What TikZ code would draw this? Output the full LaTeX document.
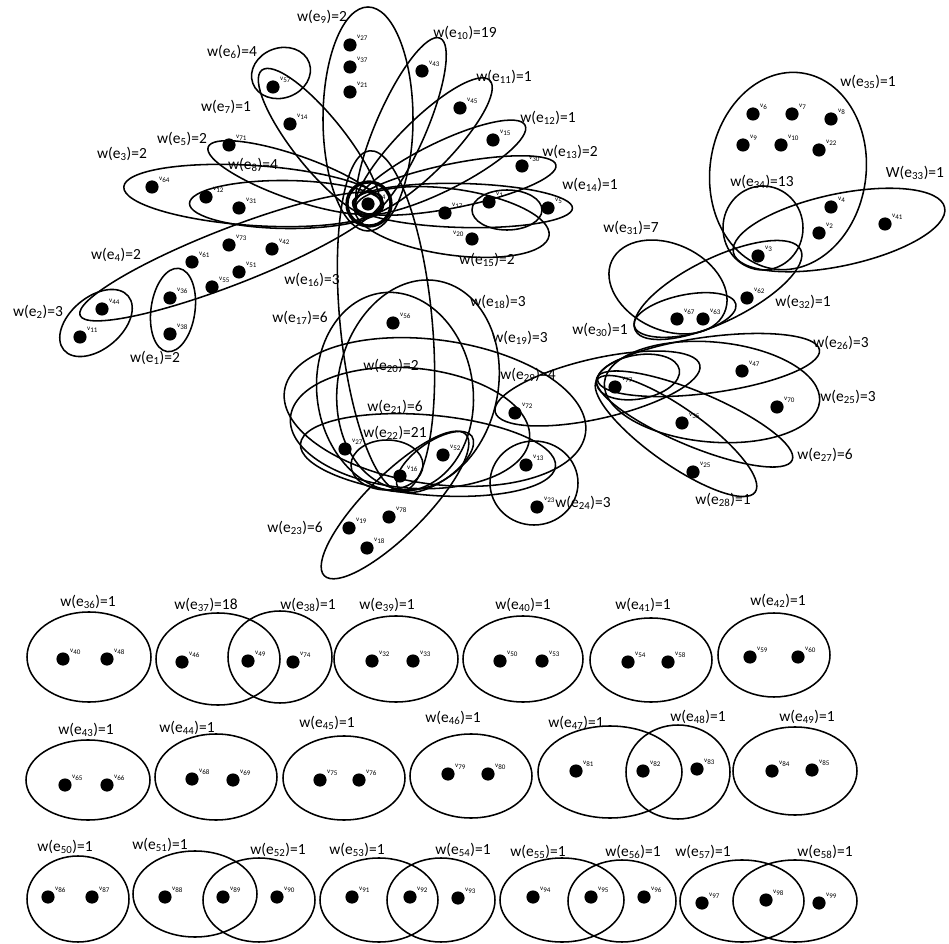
\documentclass[tikz,border=0pt]{standalone}
\usepackage{fontspec}
\setmainfont{Carlito}
\usetikzlibrary{positioning}
\tikzset{
  hedge/.style={line width=1.1pt},
  vx/.style={circle,fill,inner sep=0pt,minimum size=3.3mm},
  vlab/.style={font=\fontsize{5}{6}\selectfont,inner sep=0.6pt},
  wlab/.style={font=\fontsize{11}{13}\selectfont,inner sep=0pt},
}
\begin{document}
\begin{tikzpicture}[x=0.25mm,y=-0.25mm]
  \useasboundingbox (0,0) rectangle (949,944);
  % hyperedges of the three clusters
  \foreach \cx/\cy/\rx/\ry/\ang in {
    173/310/22/42/-8, 96/323/42/26/40, 253.5/195.5/130/30/176.2, 231/256.5/162/28/21.3,
    295/177.5/92/22/160.7, 281/73/30/25/20, 319.5/142.5/92.5/26/128.6, 286.5/204.5/97/24/179.4,
    368/119/45/112/0, 401/127.5/97.5/25/66.4, 423.5/147/94/26/45.2, 440/167.5/95/24/26.4,
    454.5/185.5/103.5/22/11.4, 462.5/205.5/110/22/-1.4, 507/210/35/20/0, 452/222/98/33/-8,
    386/321/171/46/-84.5, 395/392/78/100/8, 418/385/80/106/-12, 435/412/152/72/-8,
    410/428/120/60/-5, 428/455/128/40/-5, 387/465/36/25/0, 435/462/45/20/35,
    395/505/100/30/45, 534/483/44/42/0,
    597.5/388.5/105/30/12.9, 708.5/365/112/28/7.7, 712/392/108/50/-5, 694.5/419/106/27/-22.8,
    676/436/97/28/-35.3, 638/377/42/22/10, 685/315/52/20/12, 668/287/62/43/-25,
    718/290/92/32/26, 763/228/40/42/0, 839/230/108/36/12, 788/171/78/99/-8}{
    \draw[hedge,rotate around={\ang:(\cx,\cy)}] (\cx,\cy) ellipse ({\rx} and {\ry});
  }
  \draw[line width=2.4pt] (369,204) circle (22);
  % the separate pairs
  \foreach \cx/\cy/\rx/\ry in {
    89/657/62/45, 218/659/62/46, 280/657/52/46, 396/659/62/43, 523/659/60/43, 651/660/61/42, 774/655/56/42,
    88/780/62/40, 216/777/61/43, 344/778/61/42, 471/776/61/42, 610/772/72/46, 678/772/52/47, 795/771/62/44,
    78/899/51/43, 195/894/62/43, 259/900/56/42, 379/900/59/42, 441/900/54/42, 562/900/62/42, 622/901/54/41,
    742/901/62/41, 795/901/62/41}{
    \draw[hedge] (\cx,\cy) ellipse ({\rx} and {\ry});
  }
  % vertices
  \foreach \n/\x/\y/\s in {
    a1/273/87/57, a2/290/124/14, a3/229/145/71, a4/152/187/64, a5/206/197/12, a6/239/208/31,
    a7/229/245/73, a8/272/249/42, a9/192/262/61, a10/239/272/51, a11/212/287/55, a12/170/298/36,
    a13/102/309/44, a14/80/337/11, a15/170/334/38,
    c0/368/204/34, b1/350/45/27, b2/350/67/37, b3/350/92/21, b4/422/71/43, b5/460/108/45,
    b6/493/140/15, b7/522/166/30, b8/489/202/1, b9/548/208/5, b10/445/213/17,
    l1/393/323/56, l2/515/413/72, l3/345/449/27, l4/443/455/52, l5/400/476/16, l6/526/465/13,
    l7/537/507/23, l8/389/517/78, l9/349/528/19, l10/367/548/18,
    r0/615/387/77, r1/742/371/47, r2/777/407/70, r3/682/423/35, r4/693/472/25, r5/677/319/67,
    r6/703/319/63, r7/747/298/62, r8/758/256/3, r9/831/207/4, r10/819/233/2, r11/885/224/41,
    r12/753/114/6, r13/792/114/7, r14/831/119/8, r15/743/145/9, r16/781/145/10, r17/819/150/22,
    p1/63/659/40, p2/107/659/48, p3/182/662/46, p4/248/661/49, p5/293/662/74, p6/372/661/32,
    p7/413/661/33, p8/500/661/50, p9/542/661/53, p10/628/662/54, p11/668/662/58, p12/750/657/59,
    p13/798/657/60,
    q1/65/785/65, q2/107/785/66, q3/192/779/68, q4/233/780/69, q5/320/780/75, q6/359/780/76,
    q7/448/774/79, q8/488/774/80, q9/576/771/81, q10/643/771/82, q11/697/769/83, q12/772/771/84,
    q13/812/770/85,
    s1/48/897/86, s2/92/897/87, s3/165/897/88, s4/223/897/89, s5/277/897/90, s6/352/897/91,
    s7/410/897/92, s8/458/898/93, s9/533/897/94, s10/591/897/95, s11/644/897/96, s12/702/903/97,
    s13/766/900/98, s14/819/903/99}{
    \node[vx,label={[vlab]30:v\textsubscript{\s}}] (\n) at (\x,\y) {};
  }
  \node[vx,label={[vlab]170:v\textsubscript{20}}] (b11) at (472,239) {};
  % weights
  \foreach \n/\x/\y/\i/\w in {
    w1/155/358/1/2, w2/38/312/2/3, w3/122/154/3/2, w4/116/255/4/2, w5/182/139/5/2,
    w6/232/52/6/4, w7/226/107/7/1, w8/253/165/8/4, w9/322/17/9/2, w10/465/33/10/19,
    w11/504/77/11/1, w12/548/118/12/1, w13/570/152/13/2, w14/590/185/14/1, w15/487/260/15/2,
    w16/312/280/16/3, w17/300/318/17/6, w18/498/302/18/3, w19/520/338/19/3, w20/391/366/20/2,
    w21/395/407/21/6, w22/395/433/22/21, w23/295/528/23/6, w24/583/503/24/3, w25/848/397/25/3,
    w26/841/343/26/3, w27/825/455/27/6, w28/723/500/28/1, w29/528/375/29/4, w30/600/330/30/1,
    w31/631/228/31/7, w32/803/302/32/1, w34/762/182/34/13, w35/868/82/35/1,
    w36/88/602/36/1, w37/206/605/37/18, w38/308/605/38/1, w39/387/605/39/1, w40/523/605/40/1,
    w41/643/605/41/1, w42/778/601/42/1,
    w43/86/730/43/1, w44/187/728/44/1, w45/327/723/45/1, w46/453/718/46/1, w47/576/723/47/1,
    w48/698/717/48/1, w49/807/717/49/1,
    w50/65/847/50/1, w51/160/845/51/1, w52/278/850/52/1, w53/357/850/53/1, w54/463/850/54/1,
    w55/538/852/55/1, w56/633/852/56/1, w57/703/852/57/1, w58/825/852/58/1}{
    \node[wlab] (\n) at (\x,\y) {w(e\textsubscript{\i})=\w};
  }
  \node[wlab] (w33) at (915,173) {W(e\textsubscript{33})=1};
\end{tikzpicture}
\end{document}
